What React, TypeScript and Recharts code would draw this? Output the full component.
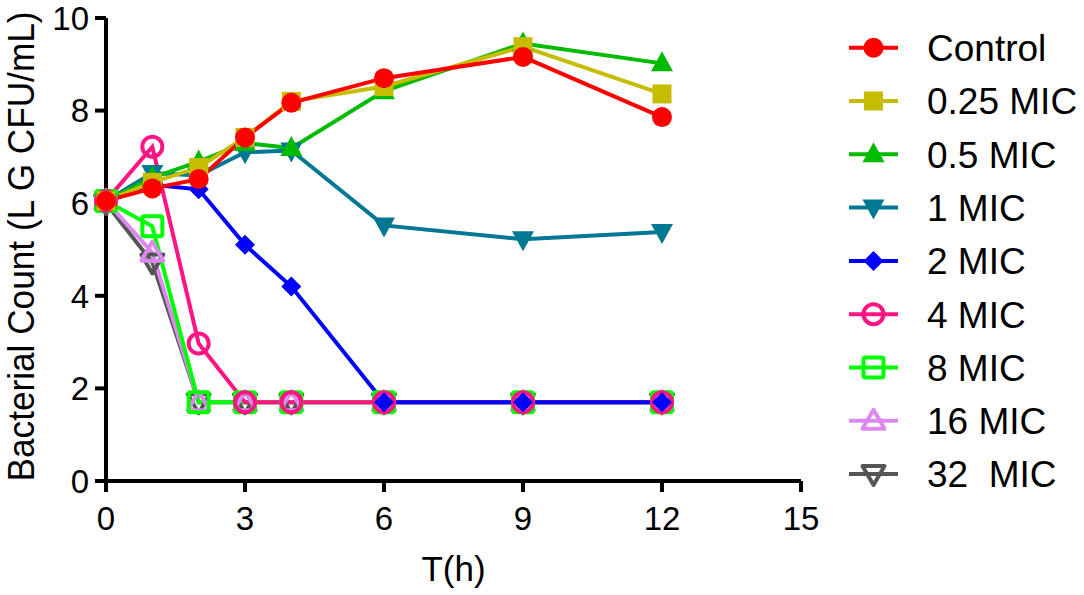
import React from 'react';
import { Line, LineChart, XAxis, YAxis } from 'recharts';

const times = [0, 1, 2, 3, 4, 6, 9, 12];

const control = [6.05, 6.32, 6.52, 7.42, 8.17, 8.7, 9.16, 7.86];
const mic025 = [6.05, 6.45, 6.77, 7.42, 8.2, 8.52, 9.38, 8.36];
const mic05 = [6.05, 6.55, 6.9, 7.3, 7.19, 8.42, 9.45, 9.02];
const mic1 = [6.05, 6.65, 6.6, 7.1, 7.14, 5.52, 5.22, 5.38];
const mic2 = [6.05, 6.4, 6.3, 5.1, 4.2, 1.7, 1.7, 1.7];
const mic4 = [6.05, 7.22, 2.97, 1.7, 1.7, 1.7, 1.7, 1.7];
const mic8 = [6.05, 5.5, 1.7, 1.7, 1.7, 1.7, 1.7, 1.7];
const mic16 = [6.05, 4.93, 1.7, 1.7, 1.7, 1.7, 1.7, 1.7];
const mic32 = [6.0, 4.72, 1.7, 1.7, 1.7, 1.7, 1.7, 1.7];

const xTicks = [0, 3, 6, 9, 12, 15];
const yTicks = [0, 2, 4, 6, 8, 10];

type Shape =
  | 'circle'
  | 'square'
  | 'triangle'
  | 'invTriangle'
  | 'diamond'
  | 'openCircle'
  | 'openSquare'
  | 'openTriangle'
  | 'openInvTriangle';

type Series = { key: string; name: string; color: string; shape: Shape; values: number[] };

const series: Series[] = [
  { key: 'control', name: 'Control', color: '#ff0000', shape: 'circle', values: control },
  { key: 'mic025', name: '0.25 MIC', color: '#c6bd00', shape: 'square', values: mic025 },
  { key: 'mic05', name: '0.5 MIC', color: '#00bb00', shape: 'triangle', values: mic05 },
  { key: 'mic1', name: '1 MIC', color: '#007893', shape: 'invTriangle', values: mic1 },
  { key: 'mic2', name: '2 MIC', color: '#0000ff', shape: 'diamond', values: mic2 },
  { key: 'mic4', name: '4 MIC', color: '#ff1483', shape: 'openCircle', values: mic4 },
  { key: 'mic8', name: '8 MIC', color: '#00ff00', shape: 'openSquare', values: mic8 },
  { key: 'mic16', name: '16 MIC', color: '#dc88f0', shape: 'openTriangle', values: mic16 },
  { key: 'mic32', name: '32  MIC', color: '#555555', shape: 'openInvTriangle', values: mic32 },
];

const data = times.map((t, i) => {
  const row: Record<string, number> = { t };
  series.forEach((s) => {
    row[s.key] = s.values[i];
  });
  return row;
});

const FONT = '"Liberation Sans", Arial, sans-serif';
const Y_TITLE = 'Bacterial Count (L G CFU/mL)';

function Marker({ shape, cx, cy, color }: { shape: Shape; cx: number; cy: number; color: string }) {
  const open = { fill: 'none', stroke: color, strokeWidth: 4, strokeLinejoin: 'round' as const };
  const solid = { fill: color, stroke: 'none' };
  switch (shape) {
    case 'circle':
      return <circle cx={cx} cy={cy} r={10} {...solid} />;
    case 'square':
      return <rect x={cx - 9.5} y={cy - 9.5} width={19} height={19} {...solid} />;
    case 'triangle':
      return <polygon points={`${cx},${cy - 12} ${cx + 11},${cy + 8} ${cx - 11},${cy + 8}`} {...solid} />;
    case 'invTriangle':
      return <polygon points={`${cx},${cy + 12} ${cx + 11},${cy - 8} ${cx - 11},${cy - 8}`} {...solid} />;
    case 'diamond':
      return <polygon points={`${cx},${cy - 10} ${cx + 10},${cy} ${cx},${cy + 10} ${cx - 10},${cy}`} {...solid} />;
    case 'openCircle':
      return <circle cx={cx} cy={cy} r={10} {...open} />;
    case 'openSquare':
      return <rect x={cx - 10} y={cy - 10} width={20} height={20} rx={2} {...open} />;
    case 'openTriangle':
      return <polygon points={`${cx},${cy - 11} ${cx + 11},${cy + 8} ${cx - 11},${cy + 8}`} {...open} />;
    case 'openInvTriangle':
      return <polygon points={`${cx},${cy + 11} ${cx + 11},${cy - 8} ${cx - 11},${cy - 8}`} {...open} />;
    default:
      return null;
  }
}

function YTitle(props: any) {
  const vb = props.viewBox || { x: 16, y: 16, width: 90, height: 465 };
  const cx = vb.x + 5;
  const cy = vb.y + vb.height / 2 - 3;
  return (
    <text
      x={cx}
      y={cy}
      transform={`rotate(-90, ${cx}, ${cy})`}
      textAnchor="middle"
      dominantBaseline="central"
      fontSize={36}
      fontFamily={FONT}
      fill="#000"
      textLength={470}
      lengthAdjust="spacingAndGlyphs"
    >
      {Y_TITLE}
    </text>
  );
}

function ChartLegend() {
  const rowH = 53.3;
  return (
    <svg
      width={239}
      height={490}
      style={{ position: 'absolute', left: 845, top: 20, display: 'block' }}
    >
      {series.map((s, i) => {
        const cy = 27.7 + i * rowH;
        return (
          <g key={s.key}>
            <line x1={4} x2={53} y1={cy} y2={cy} stroke={s.color} strokeWidth={4} />
            <Marker shape={s.shape} cx={28.5} cy={cy} color={s.color} />
            <text
              x={82}
              y={cy}
              dy="0.36em"
              fontSize={37}
              fontFamily={FONT}
              fill="#000"
              style={{ whiteSpace: 'pre' }}
            >
              {s.name}
            </text>
          </g>
        );
      })}
    </svg>
  );
}

export default function App() {
  // draw the last series first so Control ends up on top
  const drawOrder = [...series].reverse();

  return (
    <div style={{ position: 'absolute', left: 0, top: 0, width: 1084, height: 595, background: '#fff' }}>
      <LineChart
        width={1084}
        height={595}
        data={data}
        margin={{ top: 18, right: 283, bottom: 4, left: 16 }}
      >
        <XAxis
          dataKey="t"
          type="number"
          domain={[0, 15]}
          ticks={xTicks}
          interval={0}
          height={110}
          tickSize={11}
          tickMargin={15}
          axisLine={{ stroke: '#000', strokeWidth: 4 }}
          tickLine={{ stroke: '#000', strokeWidth: 4 }}
          tick={{ fontSize: 33, fill: '#000', fontFamily: FONT }}
          label={{
            value: 'T(h)',
            position: 'insideBottom',
            offset: 10,
            style: { fontSize: 35, fill: '#000', fontFamily: FONT },
          }}
        />
        <YAxis
          type="number"
          domain={[0, 10]}
          ticks={yTicks}
          interval={0}
          width={90}
          tickSize={11}
          tickMargin={6}
          axisLine={{ stroke: '#000', strokeWidth: 4 }}
          tickLine={{ stroke: '#000', strokeWidth: 4 }}
          tick={{ fontSize: 33, fill: '#000', fontFamily: FONT }}
          label={<YTitle />}
        />
        {drawOrder.map((s) => (
          <Line
            key={s.key}
            dataKey={s.key}
            name={s.name}
            stroke={s.color}
            strokeWidth={4}
            isAnimationActive={false}
            activeDot={false}
            dot={(p: any) => (
              <Marker key={`${s.key}-${p.index}`} shape={s.shape} cx={p.cx} cy={p.cy} color={s.color} />
            )}
          />
        ))}
      </LineChart>
      <ChartLegend />
    </div>
  );
}
